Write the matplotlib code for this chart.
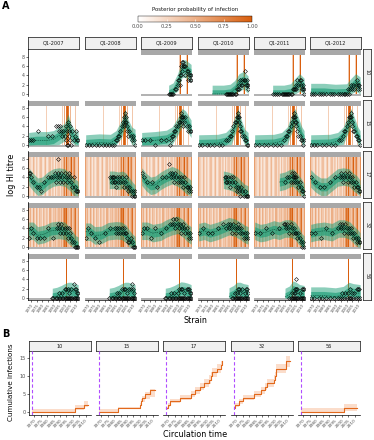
import numpy as np
import matplotlib
matplotlib.use('Agg')
import matplotlib.pyplot as plt
from matplotlib.colors import LinearSegmentedColormap, Normalize
from matplotlib.cm import ScalarMappable

W, H = 374, 440

samples = ['Q1-2007', 'Q1-2008', 'Q1-2009', 'Q1-2010', 'Q1-2011', 'Q1-2012']
people = ['10', '15', '17', '32', '56']
tick_years = [1970, 1975, 1980, 1985, 1990, 1995, 2000, 2005, 2010]
prob_ticks = [0.0, 0.25, 0.5, 0.75, 1.0]

# posterior probability of infection, by circulation year
inf_yr_10 = [2001.5, 2002.5, 2008, 2009]
inf_p_10 = [0.35, 0.95, 0.3, 1.0]
inf_yr_15 = [1983.5, 1998.5, 2000, 2001.5, 2002.5, 2003.5, 2005, 2009.5]
inf_p_15 = [0.3, 0.3, 0.55, 0.9, 1.0, 0.85, 0.45, 0.35]
inf_yr_17 = list(range(1968, 2013))
inf_p_17 = [0.6, 0.35, 0.3, 0.2, 0.45, 0.3, 0.15, 0.35, 0.25, 0.15, 0.3, 0.4, 0.2, 0.15, 0.3,
            0.45, 0.2, 0.15, 0.3, 0.4, 0.2, 0.35, 0.3, 0.15, 0.4, 0.2, 0.3, 0.35, 0.2, 0.4,
            0.3, 0.5, 0.8, 0.4, 0.95, 0.5, 0.4, 0.6, 1.0, 0.4, 0.6, 0.8, 0.4, 0.3, 0.7]
inf_yr_32 = list(range(1968, 2013))
inf_p_32 = [0.6, 0.35, 0.5, 0.25, 0.55, 0.35, 0.2, 0.5, 0.35, 0.2, 0.45, 0.35, 0.2, 0.45, 0.35,
            0.25, 0.4, 0.35, 0.2, 0.5, 0.35, 0.25, 0.4, 0.35, 0.45, 0.3, 0.35, 0.45, 0.35, 0.55,
            0.35, 0.65, 0.9, 0.75, 1.0, 0.45, 0.35, 0.55, 0.75, 0.35, 0.45, 0.65, 0.9, 0.35, 0.6]
inf_yr_56 = [2002]
inf_p_56 = [1.0]

# observed titres (strain year, log titre) per sample
obs_x_10 = [None, None,
            [1992, 1993, 1994, 1995, 1996, 1998, 1999, 2000, 2000, 2001, 2002, 2002, 2003, 2003, 2004,
             2004, 2005, 2005, 2006, 2007, 2007, 2008, 2009, 2009, 2010, 2011, 2011, 2012, 2012],
            [1992, 1993, 1994, 1995, 1996, 1997, 1998, 1999, 2000, 2001, 2002, 2003, 2004, 2004, 2005,
             2006, 2007, 2007, 2008, 2009, 2009, 2010, 2011, 2011, 2012, 2012],
            [1984, 1986, 1988, 1990, 1992, 1993, 1994, 1995, 1996, 1997, 1998, 1999, 2000, 2001, 2002,
             2003, 2004, 2005, 2005, 2006, 2007, 2008, 2009, 2009, 2010, 2011, 2011, 2012, 2012],
            [1968, 1970, 1972, 1975, 1977, 1979, 1982, 1985, 1987, 1989, 1992, 1994, 1996, 1998, 1999,
             2000, 2001, 2002, 2003, 2004, 2005, 2006, 2007, 2008, 2009, 2010, 2010, 2011, 2012]]
obs_y_10 = [None, None,
            [0, 0, 0, 0, 0, 1, 1, 2, 3, 3, 4, 2, 6, 4, 7, 5, 6, 7, 6, 4, 6, 5, 3, 5, 4, 4, 3, 4, 3],
            [0, 0, 0, 0, 0, 0, 0, 0, 0, 0, 1, 1, 2, 1, 3, 2, 3, 2, 3, 5, 3, 2, 3, 2, 2, 1],
            [0, 0, 0, 0, 0, 0, 0, 0, 0, 0, 0, 0, 0, 0, 1, 1, 1, 2, 1, 3, 2, 3, 3, 2, 1, 2, 1, 1, 0],
            [0, 0, 0, 0, 0, 0, 0, 0, 0, 0, 0, 0, 0, 0, 0, 0, 1, 0, 1, 2, 1, 2, 1, 2, 3, 2, 1, 2, 1]]
knot_10 = [None, None,
           [1992, 1996, 2000, 2004, 2007, 2012],
           [1980, 1990, 1996, 2000, 2004, 2008, 2012],
           [1984, 1994, 2000, 2004, 2008, 2012],
           [1968, 1980, 1990, 2000, 2004, 2008, 2012]]
med_10 = [None, None,
          [0, 0.5, 2.5, 5.5, 5.5, 4.5],
          [0, 0, 0.2, 1, 2.5, 3, 2],
          [0, 0, 0.3, 1.5, 2.5, 1.5],
          [0.4, 0.4, 0.2, 0.3, 1.5, 2.5, 1.8]]

obs_x_15 = [[1968, 1970, 1972, 1976, 1985, 1989, 1992, 1994, 1995, 1996, 1997, 1998, 1999, 2000, 2001,
             2001, 2002, 2002, 2003, 2003, 2004, 2004, 2005, 2005, 2006, 2007, 2008, 2009, 2010, 2011, 2012],
            [1968, 1971, 1974, 1977, 1980, 1983, 1986, 1989, 1991, 1993, 1995, 1996, 1997, 1998, 1999,
             2000, 2001, 2002, 2002, 2003, 2003, 2004, 2004, 2005, 2005, 2006, 2007, 2008, 2009, 2010, 2011, 2012],
            [1968, 1971, 1975, 1980, 1985, 1990, 1993, 1994, 1995, 1996, 1997, 1998, 1999, 2000, 2001,
             2002, 2003, 2003, 2004, 2004, 2005, 2005, 2006, 2007, 2008, 2009, 2010, 2011, 2012],
            [1968, 1971, 1975, 1978, 1982, 1986, 1989, 1992, 1994, 1996, 1997, 1998, 1999, 2000, 2001,
             2002, 2003, 2003, 2004, 2004, 2005, 2005, 2006, 2007, 2008, 2009, 2010, 2011, 2012],
            [1968, 1972, 1976, 1980, 1984, 1988, 1991, 1994, 1996, 1997, 1998, 1999, 2000, 2001, 2002,
             2003, 2003, 2004, 2004, 2005, 2005, 2006, 2007, 2008, 2009, 2010, 2011, 2012],
            [1968, 1971, 1974, 1978, 1982, 1986, 1990, 1993, 1995, 1997, 1998, 1999, 2000, 2001, 2002,
             2003, 2004, 2004, 2005, 2005, 2006, 2007, 2008, 2009, 2010, 2011, 2012]]
obs_y_15 = [[1, 1, 1, 3, 2, 2, 4, 4, 3, 4, 3, 2, 3, 2, 1, 4, 0, 3, 0, 5, 3, 2, 4, 1, 0, 3, 1, 2, 3, 1, 1],
            [0, 0, 0, 0, 0, 0, 0, 0, 0, 0, 1, 1, 2, 2, 3, 4, 5, 6, 4, 7, 5, 6, 5, 4, 3, 2, 3, 2, 1, 2, 1, 0],
            [1, 1, 1, 0, 1, 1, 0, 1, 2, 2, 3, 3, 4, 4, 5, 5, 6, 7, 6, 5, 6, 4, 5, 6, 4, 3, 4, 3, 3],
            [0, 0, 0, 0, 0, 0, 0, 1, 1, 2, 2, 3, 4, 5, 5, 6, 7, 6, 6, 5, 4, 3, 3, 2, 2, 1, 1, 0, 0],
            [0, 0, 0, 0, 0, 0, 0, 1, 2, 2, 3, 3, 4, 5, 6, 7, 6, 6, 5, 5, 4, 3, 2, 2, 1, 1, 0, 1],
            [0, 0, 0, 0, 0, 0, 0, 1, 1, 2, 3, 3, 4, 5, 6, 6, 7, 6, 5, 4, 3, 3, 2, 2, 1, 1, 0]]
knot_15 = [[1968, 1975, 1985, 1990, 1995, 2000, 2003, 2006, 2009, 2012],
           [1968, 1980, 1990, 1995, 2000, 2003, 2006, 2009, 2012],
           [1968, 1980, 1990, 1995, 2000, 2004, 2007, 2012],
           [1968, 1985, 1992, 1997, 2000, 2003, 2006, 2009, 2012],
           [1968, 1985, 1992, 1997, 2000, 2004, 2007, 2010, 2012],
           [1968, 1985, 1992, 1997, 2000, 2004, 2007, 2010, 2012]]
med_15 = [[0.8, 1, 1, 1.2, 2, 2.8, 4.8, 2.5, 1.3, 1],
          [0.3, 0.5, 0.4, 1.2, 3.5, 5.8, 3.5, 2, 1.5],
          [0.8, 1, 1.3, 2, 4, 6, 5.5, 3.5],
          [0.3, 0.4, 0.8, 2, 4, 6, 3.5, 1.5, 0.8],
          [0.3, 0.4, 0.8, 2, 4, 6, 4, 2, 1.2],
          [0.3, 0.4, 0.8, 2, 3.8, 6, 4, 2, 1.2]]

obs_x_17 = [[1968, 1969, 1970, 1972, 1975, 1977, 1979, 1982, 1985, 1988, 1990, 1991, 1992, 1993, 1994,
             1994, 1995, 1996, 1997, 1998, 1999, 2000, 2001, 2002, 2003, 2004, 2005, 2006, 2007, 2008,
             2009, 2010, 2011, 2012],
            [1990, 1991, 1991, 1992, 1993, 1993, 1994, 1995, 1996, 1997, 1998, 1999, 2000, 2001, 2002,
             2003, 2004, 2005, 2006, 2007, 2008, 2009, 2010, 2011, 2012, 2012],
            [1968, 1970, 1973, 1977, 1982, 1986, 1990, 1992, 1993, 1994, 1995, 1996, 1997, 1998, 1999,
             2000, 2001, 2002, 2003, 2004, 2005, 2006, 2007, 2008, 2009, 2010, 2011, 2012],
            [1991, 1992, 1992, 1993, 1994, 1995, 1996, 1997, 1998, 1999, 2000, 2001, 2002, 2003, 2004,
             2005, 2006, 2007, 2008, 2009, 2010, 2011, 2012],
            [1995, 1997, 1999, 2000, 2001, 2002, 2002, 2003, 2003, 2004, 2004, 2005, 2006, 2007, 2008,
             2009, 2010, 2011, 2012],
            [1968, 1972, 1976, 1980, 1985, 1990, 1994, 1995, 1996, 1997, 1998, 1999, 2000, 2001, 2002,
             2003, 2004, 2005, 2006, 2007, 2008, 2009, 2010, 2011, 2012]]
obs_y_17 = [[5, 5, 4, 3, 2, 2, 1, 3, 4, 4, 4, 5, 3, 4, 5, 8, 4, 3, 5, 4, 3, 5, 4, 3, 4, 5, 4, 3, 2, 4, 2, 1, 1, 1],
            [4, 3, 4, 4, 3, 4, 3, 2, 4, 3, 4, 3, 4, 3, 2, 3, 4, 2, 1, 2, 1, 0, 1, 0, 0, 1],
            [5, 4, 3, 3, 2, 4, 4, 7, 5, 4, 5, 4, 3, 5, 4, 3, 4, 3, 4, 3, 2, 4, 3, 2, 2, 1, 2, 1],
            [4, 3, 4, 3, 4, 3, 2, 4, 3, 4, 3, 2, 1, 2, 1, 0, 2, 1, 0, 1, 0, 0, 0],
            [3, 4, 4, 3, 5, 4, 3, 5, 4, 4, 3, 4, 3, 2, 3, 2, 1, 1, 0],
            [4, 3, 2, 2, 3, 4, 4, 5, 4, 3, 4, 5, 4, 3, 5, 4, 3, 4, 3, 2, 3, 2, 2, 1, 1]]
knot_17 = [[1968, 1972, 1976, 1980, 1985, 1990, 1995, 2000, 2005, 2008, 2012],
           [1989, 1993, 1997, 2001, 2004, 2007, 2010, 2012],
           [1968, 1972, 1976, 1980, 1985, 1990, 1995, 2000, 2005, 2008, 2012],
           [1990, 1994, 1998, 2002, 2006, 2009, 2012],
           [1990, 1995, 1999, 2002, 2006, 2009, 2012],
           [1968, 1972, 1977, 1982, 1987, 1992, 1997, 2002, 2006, 2009, 2012]]
med_17 = [[4.2, 3, 2, 2.2, 3.3, 4, 4.2, 4, 3, 2, 1.3],
          [3.5, 3.5, 3.3, 3.5, 3, 2, 1, 0.5],
          [4.2, 3, 2.2, 2.4, 3.3, 4, 4.5, 4, 3, 2.3, 1.5],
          [3.5, 3.3, 3, 2.3, 1.3, 0.6, 0.3],
          [3, 3.3, 3.8, 4, 3, 2, 0.8],
          [3.8, 2.8, 2, 2, 3, 4, 4.2, 4, 3, 2.5, 1.5]]

obs_x_32 = [[1968, 1970, 1972, 1975, 1978, 1982, 1985, 1990, 1993, 1994, 1995, 1996, 1997, 1998, 1999,
             2000, 2001, 2002, 2003, 2004, 2005, 2006, 2007, 2008, 2009, 2010, 2011, 2012],
            [1968, 1970, 1973, 1976, 1980, 1985, 1990, 1994, 1995, 1996, 1997, 1998, 1999, 2000, 2001,
             2002, 2003, 2004, 2005, 2006, 2007, 2008, 2009, 2010, 2011, 2012],
            [1968, 1970, 1973, 1976, 1980, 1985, 1990, 1993, 1995, 1996, 1997, 1998, 1999, 2000, 2001,
             2002, 2003, 2004, 2005, 2006, 2007, 2008, 2009, 2010, 2011, 2012],
            [1968, 1972, 1976, 1980, 1985, 1990, 1992, 1994, 1995, 1996, 1997, 1998, 1999, 2000, 2001,
             2002, 2003, 2004, 2005, 2006, 2007, 2008, 2009, 2010, 2011, 2012],
            [1968, 1973, 1978, 1983, 1990, 1994, 1995, 1996, 1997, 1998, 1999, 2000, 2001, 2002, 2003,
             2004, 2005, 2006, 2007, 2008, 2009, 2010, 2011, 2012],
            [1968, 1972, 1977, 1982, 1987, 1992, 1994, 1995, 1996, 1997, 1998, 1999, 2000, 2001, 2002,
             2003, 2004, 2005, 2006, 2007, 2008, 2009, 2010, 2011, 2012]]
obs_y_32 = [[2, 4, 3, 2, 2, 2, 4, 2, 4, 5, 4, 3, 5, 4, 3, 4, 3, 4, 2, 4, 3, 2, 1, 1, 0, 0, 0, 0],
            [2, 4, 3, 2, 1, 3, 4, 4, 3, 4, 3, 4, 3, 4, 3, 4, 3, 3, 2, 1, 1, 2, 1, 0, 0, 0],
            [3, 4, 4, 2, 4, 3, 4, 5, 5, 6, 5, 4, 6, 5, 4, 5, 3, 4, 5, 4, 3, 4, 3, 2, 3, 2],
            [3, 4, 3, 3, 4, 5, 4, 5, 4, 5, 4, 3, 5, 4, 3, 4, 5, 4, 3, 4, 3, 2, 3, 2, 3, 2],
            [3, 3, 4, 3, 4, 5, 5, 4, 5, 4, 3, 5, 4, 3, 4, 3, 3, 2, 3, 2, 1, 0, 1, 0],
            [3, 3, 2, 4, 3, 4, 5, 4, 5, 4, 3, 5, 4, 3, 4, 3, 4, 3, 2, 3, 2, 1, 2, 1, 1]]
knot_32 = [[1968, 1972, 1976, 1982, 1988, 1995, 2000, 2004, 2007, 2010, 2012],
           [1968, 1972, 1976, 1982, 1988, 1995, 2000, 2004, 2007, 2010, 2012],
           [1968, 1973, 1978, 1985, 1990, 1995, 2000, 2005, 2009, 2012],
           [1968, 1973, 1978, 1985, 1990, 1995, 2000, 2005, 2009, 2012],
           [1968, 1973, 1978, 1985, 1990, 1995, 2000, 2004, 2007, 2010, 2012],
           [1968, 1973, 1980, 1987, 1993, 1998, 2003, 2007, 2010, 2012]]
med_32 = [[3.5, 3.5, 2.5, 2.8, 3.5, 3.7, 3.5, 2.5, 1.5, 0.5, 0.3],
          [3.3, 3.3, 2.5, 2.6, 3.4, 3.6, 3.5, 2.8, 1.7, 0.8, 0.4],
          [3.5, 3.5, 3, 3.3, 4, 4.5, 4.8, 4, 3, 2.5],
          [3.2, 3.5, 3, 3.5, 4, 4.5, 4.2, 3.5, 2.8, 2.5],
          [3.5, 3, 3.2, 3.8, 3.5, 4, 4, 3.5, 2.5, 1, 0.5],
          [3, 3.3, 3.5, 3.2, 4, 4, 3.5, 2.5, 1.8, 1.2]]

obs_x_56 = [[1989, 1990, 1992, 1993, 1995, 1996, 1998, 1999, 2000, 2001, 2002, 2003, 2004, 2005, 2006,
             2007, 2008, 2009, 2010, 2011, 2012, 1995, 1998, 2000, 2001, 2003, 2004, 2006, 2008, 2009,
             2010, 2011, 2012],
            [1989, 1991, 1992, 1994, 1995, 1997, 1998, 1999, 2000, 2001, 2002, 2003, 2004, 2005, 2006,
             2007, 2008, 2009, 2010, 2011, 2012, 1996, 1998, 2000, 2002, 2003, 2005, 2007, 2008, 2009,
             2010, 2011],
            [1989, 1990, 1992, 1993, 1995, 1996, 1998, 1999, 2000, 2001, 2002, 2003, 2004, 2005, 2006,
             2007, 2008, 2009, 2010, 2011, 2012, 1994, 1997, 2000, 2001, 2003, 2004, 2006, 2008, 2009,
             2010, 2011, 2012],
            [1998, 1999, 2000, 2001, 2002, 2003, 2004, 2005, 2006, 2007, 2008, 2009, 2010, 2011, 2012,
             2000, 2002, 2003, 2004, 2005, 2007, 2009, 2010, 2011, 2012],
            [1999, 2000, 2001, 2002, 2003, 2004, 2005, 2006, 2007, 2008, 2009, 2010, 2011, 2012, 2001,
             2003, 2004, 2004, 2005, 2005, 2006, 2008, 2010, 2011, 2012],
            [1968, 1971, 1975, 1978, 1982, 1985, 1989, 1992, 1994, 1996, 1998, 2000, 2002, 2003, 2004,
             2006, 2008, 2010, 2012, 1996, 1999, 2001, 2003, 2005, 2007, 2009, 2010, 2011]]
obs_y_56 = [[0, 0, 0, 0, 0, 0, 0, 0, 0, 0, 0, 0, 0, 0, 0, 0, 0, 0, 0, 0, 0,
             1, 1, 2, 2, 2, 1, 2, 3, 2, 2, 1, 1],
            [0, 0, 0, 0, 0, 0, 0, 0, 0, 0, 0, 0, 0, 0, 0, 0, 0, 0, 0, 0, 0,
             1, 1, 2, 2, 2, 1, 2, 2, 3, 2, 1],
            [0, 0, 0, 0, 0, 0, 0, 0, 0, 0, 0, 0, 0, 0, 0, 0, 0, 0, 0, 0, 0,
             1, 1, 1, 2, 2, 2, 1, 2, 2, 2, 1, 1],
            [0, 0, 0, 0, 0, 0, 0, 0, 0, 0, 0, 0, 0, 0, 0,
             1, 1, 2, 2, 1, 2, 1, 2, 2, 1],
            [0, 0, 0, 0, 0, 0, 0, 0, 0, 0, 0, 0, 0, 0,
             1, 1, 2, 1, 4, 2, 2, 1, 2, 2, 2],
            [0, 0, 0, 0, 0, 0, 0, 0, 0, 0, 0, 0, 0, 0, 0, 0, 0, 0, 0,
             1, 1, 1, 2, 1, 1, 2, 2, 2]]
knot_56 = [[1989, 1993, 1997, 2000, 2003, 2006, 2009, 2012],
           [1989, 1993, 1997, 2000, 2003, 2006, 2009, 2012],
           [1989, 1993, 1997, 2000, 2003, 2006, 2009, 2012],
           [1995, 1999, 2002, 2005, 2008, 2012],
           [1995, 1999, 2002, 2005, 2008, 2012],
           [1968, 1980, 1990, 1997, 2002, 2006, 2012]]
med_56 = [[0.2, 0.4, 0.8, 1.2, 1.5, 1.5, 1.2, 1],
          [0.2, 0.4, 0.8, 1.2, 1.5, 1.5, 1.2, 1],
          [0.2, 0.4, 0.8, 1.2, 1.6, 1.5, 1.3, 1],
          [0.3, 0.8, 1.5, 1.5, 1.2, 1],
          [0.2, 0.7, 1.8, 1.5, 1, 0.8],
          [0.5, 0.5, 0.3, 0.6, 1.5, 1.2, 1]]

# model credible interval half widths (log titre units)
inner_half = 0.9
outer_half = 1.9

# panel B: cumulative infections
cum_yr_10 = [1968, 2002, 2009, 2012]
cum_10 = [0, 1, 2, 2]
cum_lo_10 = [0, 0.6, 1.5, 1.5]
cum_hi_10 = [0.7, 2, 3, 3]
cum_yr_15 = [1968, 1983, 1999, 2000, 2001, 2002, 2004, 2008, 2012]
cum_15 = [0, 1, 1, 2, 3, 4, 5, 6, 6]
cum_lo_15 = [0, 0.8, 1, 1.2, 2, 2.8, 3.5, 4.2, 4.2]
cum_hi_15 = [0.7, 1.3, 1.5, 2.5, 3.5, 4.5, 5.5, 6.3, 6.3]
cum_yr_17 = [1968, 1970, 1971, 1979, 1988, 1991, 1995, 1998, 2002, 2003, 2004, 2008, 2010, 2011, 2012]
cum_17 = [1, 2, 3, 4, 5, 6, 7, 8, 9, 10, 11, 12, 12, 13, 14]
cum_lo_17 = [0.5, 1.4, 2.4, 3.3, 4.2, 5.1, 6.0, 6.9, 7.8, 8.8, 9.8, 10.7, 10.8, 11.8, 12.7]
cum_hi_17 = [1.5, 2.6, 3.6, 4.7, 5.8, 6.9, 8.0, 9.1, 10.2, 11.2, 12.2, 13.3, 13.2, 14.2, 15.3]
cum_yr_32 = [1968, 1969, 1972, 1975, 1984, 1989, 1992, 1994, 1999, 2000, 2001, 2009, 2012]
cum_32 = [1, 2, 3, 4, 5, 6, 7, 8, 9, 10, 12, 14, 14]
cum_lo_32 = [0.5, 1.4, 2.3, 3.3, 4.2, 5.1, 6.0, 6.9, 7.8, 8.8, 10.7, 12.6, 12.6]
cum_hi_32 = [1.5, 2.6, 3.7, 4.7, 5.8, 6.9, 8.0, 9.1, 10.2, 11.2, 13.3, 15.4, 15.4]
cum_yr_56 = [1968, 2002, 2012]
cum_56 = [0, 1, 1]
cum_lo_56 = [0, 0.4, 0.4]
cum_hi_56 = [1.0, 2.3, 2.3]

inf_yr = {'10': inf_yr_10, '15': inf_yr_15, '17': inf_yr_17, '32': inf_yr_32, '56': inf_yr_56}
inf_p = {'10': inf_p_10, '15': inf_p_15, '17': inf_p_17, '32': inf_p_32, '56': inf_p_56}
obs_x = {'10': obs_x_10, '15': obs_x_15, '17': obs_x_17, '32': obs_x_32, '56': obs_x_56}
obs_y = {'10': obs_y_10, '15': obs_y_15, '17': obs_y_17, '32': obs_y_32, '56': obs_y_56}
knots = {'10': knot_10, '15': knot_15, '17': knot_17, '32': knot_32, '56': knot_56}
meds = {'10': med_10, '15': med_15, '17': med_17, '32': med_32, '56': med_56}
cum_yr = {'10': cum_yr_10, '15': cum_yr_15, '17': cum_yr_17, '32': cum_yr_32, '56': cum_yr_56}
cum = {'10': cum_10, '15': cum_15, '17': cum_17, '32': cum_32, '56': cum_56}
cum_lo = {'10': cum_lo_10, '15': cum_lo_15, '17': cum_lo_17, '32': cum_lo_32, '56': cum_lo_56}
cum_hi = {'10': cum_hi_10, '15': cum_hi_15, '17': cum_hi_17, '32': cum_hi_32, '56': cum_hi_56}

cmap = LinearSegmentedColormap.from_list('inf', ['#ffffff', '#d95f0e'])
green = '#1b9e77'
txt = '#4d4d4d'

fig = plt.figure(figsize=(W / 100, H / 100), dpi=100)


def px_axes(x0, y0, x1, y1):
    return fig.add_axes([x0 / W, 1 - y1 / H, (x1 - x0) / W, (y1 - y0) / H])


def strip(x0, y0, x1, y1, label, rot=0):
    sax = px_axes(x0, y0, x1, y1)
    sax.set_facecolor('#f0f0f0')
    sax.set_xticks([])
    sax.set_yticks([])
    for s in sax.spines.values():
        s.set_color('#333333')
        s.set_linewidth(0.6)
    sax.text(0.5, 0.5, label, ha='center', va='center', rotation=rot,
             fontsize=3.6, color='#1a1a1a', transform=sax.transAxes)


def clean(ax):
    for s in ax.spines.values():
        s.set_visible(False)
    ax.set_xticks([])
    ax.set_yticks([])
    ax.patch.set_alpha(0)


# ---- panel A ----
col_x = [28, 85, 141, 198, 254, 310]
row_y = [49, 100, 151, 202, 253]
pw, ph = 51, 47

for c, s in enumerate(samples):
    strip(col_x[c], 37, col_x[c] + pw, 49, s)

for r, person in enumerate(people):
    strip(363, row_y[r], 371, row_y[r] + ph, person, rot=-90)
    for c in range(len(samples)):
        ax = px_axes(col_x[c], row_y[r], col_x[c] + pw, row_y[r] + ph)
        clean(ax)
        ax.set_xlim(1967.4, 2012.8)
        ax.set_ylim(-0.45, 9.75)
        xs = obs_x[person][c]
        if xs is not None:
            ax.bar(inf_yr[person], 8.8, bottom=-0.45, width=1.0,
                   color=[cmap(p) for p in inf_p[person]], lw=0, zorder=0)
            ax.axhspan(8.35, 9.45, color='#a8a8a8', lw=0, zorder=1)
            ax.axhspan(-0.45, -0.12, color='#b3b3b3', lw=0, zorder=1)
            k = knots[person][c]
            m = np.array(meds[person][c])
            ax.fill_between(k, np.clip(m - outer_half, 0, 8.3), np.clip(m + outer_half, 0, 8.3),
                            color=green, alpha=0.5, lw=0, zorder=2)
            ax.fill_between(k, np.clip(m - inner_half, 0, 8.3), np.clip(m + inner_half, 0, 8.3),
                            color=green, alpha=0.65, lw=0, zorder=3)
            ax.plot(k, m, ls=(0, (2, 1.2)), color='#0d5c44', lw=0.5, zorder=4)
            ax.plot(xs, obs_y[person][c], 'D', ms=2.0, mfc='none', mec='black', mew=0.4, zorder=5)
        if c == 0:
            ax.spines['left'].set_visible(True)
            ax.spines['left'].set_linewidth(0.5)
            ax.set_yticks([0, 2, 4, 6, 8])
            ax.tick_params(axis='y', length=1.5, width=0.4, labelsize=3.3, pad=1, labelcolor=txt)
        if r == len(people) - 1:
            ax.spines['bottom'].set_visible(True)
            ax.spines['bottom'].set_linewidth(0.5)
            ax.set_xticks(tick_years)
            ax.set_xticklabels([str(y) for y in tick_years], rotation=55, ha='right',
                               rotation_mode='anchor', fontsize=2.8, color=txt)
            ax.tick_params(axis='x', length=1.5, width=0.4, pad=1)

# colorbar legend
cax = px_axes(138, 16, 252, 22)
cb = fig.colorbar(ScalarMappable(norm=Normalize(0, 1), cmap=cmap), cax=cax, orientation='horizontal')
cb.set_ticks(prob_ticks)
cb.set_ticklabels(['%.2f' % v for v in prob_ticks])
cb.ax.tick_params(labelsize=3.8, length=2, width=0.4, color='white', direction='in', pad=1.5,
                  labelcolor=txt)
cb.outline.set_linewidth(0.3)
fig.text(195 / W, 1 - 10 / H, 'Posterior probability of infection', ha='center', va='center',
         fontsize=3.9, color='#1a1a1a')

fig.text(6 / W, 1 - 6 / H, 'A', ha='center', va='center', fontsize=7, fontweight='bold')
fig.text(12 / W, 1 - 175 / H, 'log HI titre', ha='center', va='center', rotation=90, fontsize=5.8)
fig.text(195 / W, 1 - 320 / H, 'Strain', ha='center', va='center', fontsize=5.8)

# ---- panel B ----
bcol_x = [29, 96, 163, 231, 298]
bw = 62
for c, person in enumerate(people):
    strip(bcol_x[c], 341, bcol_x[c] + bw, 351, person)
    ax = px_axes(bcol_x[c], 351, bcol_x[c] + bw, 415)
    clean(ax)
    ax.set_xlim(1965.8, 2014.2)
    ax.set_ylim(-0.83, 16.9)
    ax.fill_between(cum_yr[person], cum_lo[person], cum_hi[person], step='post',
                    color='#f4a06a', alpha=0.35, lw=0)
    ax.step(cum_yr[person], cum[person], where='post', color='#e2691c', lw=0.8)
    ax.axvline(1968, color='#b04cff', ls=(0, (3, 2)), lw=0.8)
    ax.spines['bottom'].set_visible(True)
    ax.spines['bottom'].set_linewidth(0.5)
    ax.set_xticks(tick_years)
    ax.set_xticklabels([str(y) for y in tick_years], rotation=45, ha='right',
                       rotation_mode='anchor', fontsize=3.1, color=txt)
    ax.tick_params(axis='x', length=1.5, width=0.4, pad=1)
    if c == 0:
        ax.spines['left'].set_visible(True)
        ax.spines['left'].set_linewidth(0.5)
        ax.set_yticks([0, 5, 10, 15])
        ax.tick_params(axis='y', length=1.5, width=0.4, labelsize=3.6, pad=1, labelcolor=txt)

fig.text(6 / W, 1 - 334 / H, 'B', ha='center', va='center', fontsize=7, fontweight='bold')
fig.text(11 / W, 1 - 382 / H, 'Cumulative infections', ha='center', va='center', rotation=90,
         fontsize=5.1)
fig.text(195 / W, 1 - 434 / H, 'Circulation time', ha='center', va='center', fontsize=5.8)

fig.savefig('out.png', dpi=100)
